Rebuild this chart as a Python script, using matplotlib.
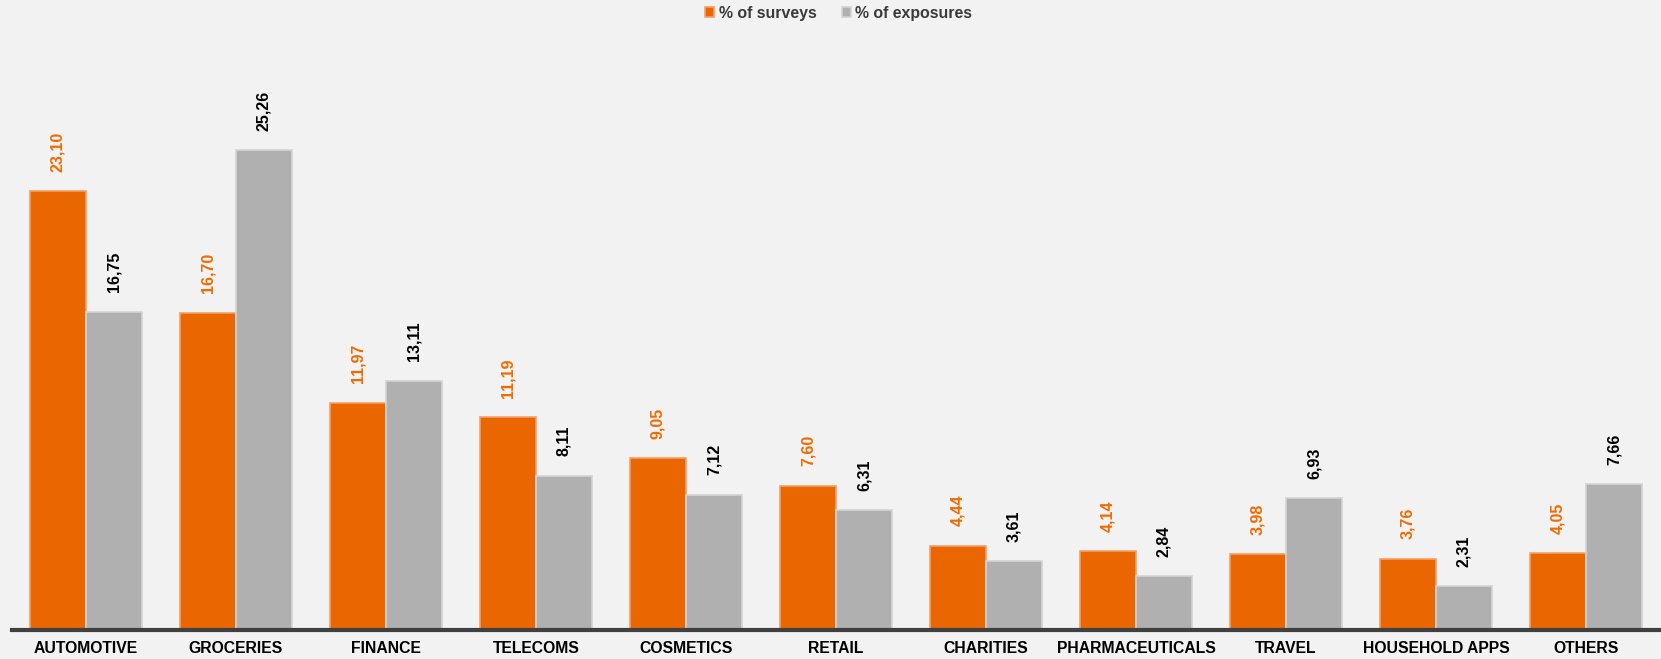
import matplotlib.pyplot as plt
import numpy as np

categories = ["AUTOMOTIVE", "GROCERIES", "FINANCE", "TELECOMS", "COSMETICS",
              "RETAIL", "CHARITIES", "PHARMACEUTICALS", "TRAVEL",
              "HOUSEHOLD APPS", "OTHERS"]
surveys = [23.10, 16.70, 11.97, 11.19, 9.05, 7.60, 4.44, 4.14, 3.98, 3.76, 4.05]
exposures = [16.75, 25.26, 13.11, 8.11, 7.12, 6.31, 3.61, 2.84, 6.93, 2.31, 7.66]

ORANGE = '#e96600'
GREY = '#b0b0b0'
BG = '#f2f2f2'

plt.rcParams['font.family'] = ['Liberation Sans', 'DejaVu Sans']


def fmt(v):
    return "{:.2f}".format(v).replace('.', ',')


fig = plt.figure(figsize=(16.61, 6.59), dpi=100, facecolor=BG)
ax = fig.add_axes([12 / 1661, 29 / 659, 1 - 12 / 1661, 570 / 659])
ax.set_facecolor('none')

x = np.arange(len(categories))
w = 0.373
b1 = ax.bar(x - w / 2, surveys, w, color=ORANGE, edgecolor='#f4a06a',
            linewidth=1.2, label='% of surveys')
b2 = ax.bar(x + w / 2, exposures, w, color=GREY, edgecolor='#d4d4d4',
            linewidth=1.2, label='% of exposures')

for xi, v in zip(x, surveys):
    ax.annotate(fmt(v), (xi - w / 2, v), xytext=(0, 14), textcoords='offset points',
                rotation=90, ha='center', va='bottom', fontsize=11.5,
                fontweight='bold', color='#f06a00')
for xi, v in zip(x, exposures):
    ax.annotate(fmt(v), (xi + w / 2, v), xytext=(0, 14), textcoords='offset points',
                rotation=90, ha='center', va='bottom', fontsize=11.5,
                fontweight='bold', color='black')

ax.set_xlim(-0.493, 10.5)
ax.set_ylim(0, 30)
ax.set_xticks(x)
ax.set_xticklabels(categories, fontsize=11.3, fontweight='bold')
ax.tick_params(axis='x', length=0, pad=8)
ax.set_yticks([])
for s in ['top', 'right', 'left']:
    ax.spines[s].set_visible(False)
ax.spines['bottom'].set_color('#404040')
ax.spines['bottom'].set_linewidth(3)

leg = fig.legend(handles=[b1, b2], loc='upper center', bbox_to_anchor=(0.505, 1.013),
                 ncol=2, frameon=False, handlelength=0.55, handleheight=0.55,
                 handletextpad=0.3, columnspacing=1.6,
                 prop={'weight': 'bold', 'size': 11.4})
for t in leg.get_texts():
    t.set_color('#3a3a3a')

fig.savefig('out.png', dpi=100, facecolor=BG)
